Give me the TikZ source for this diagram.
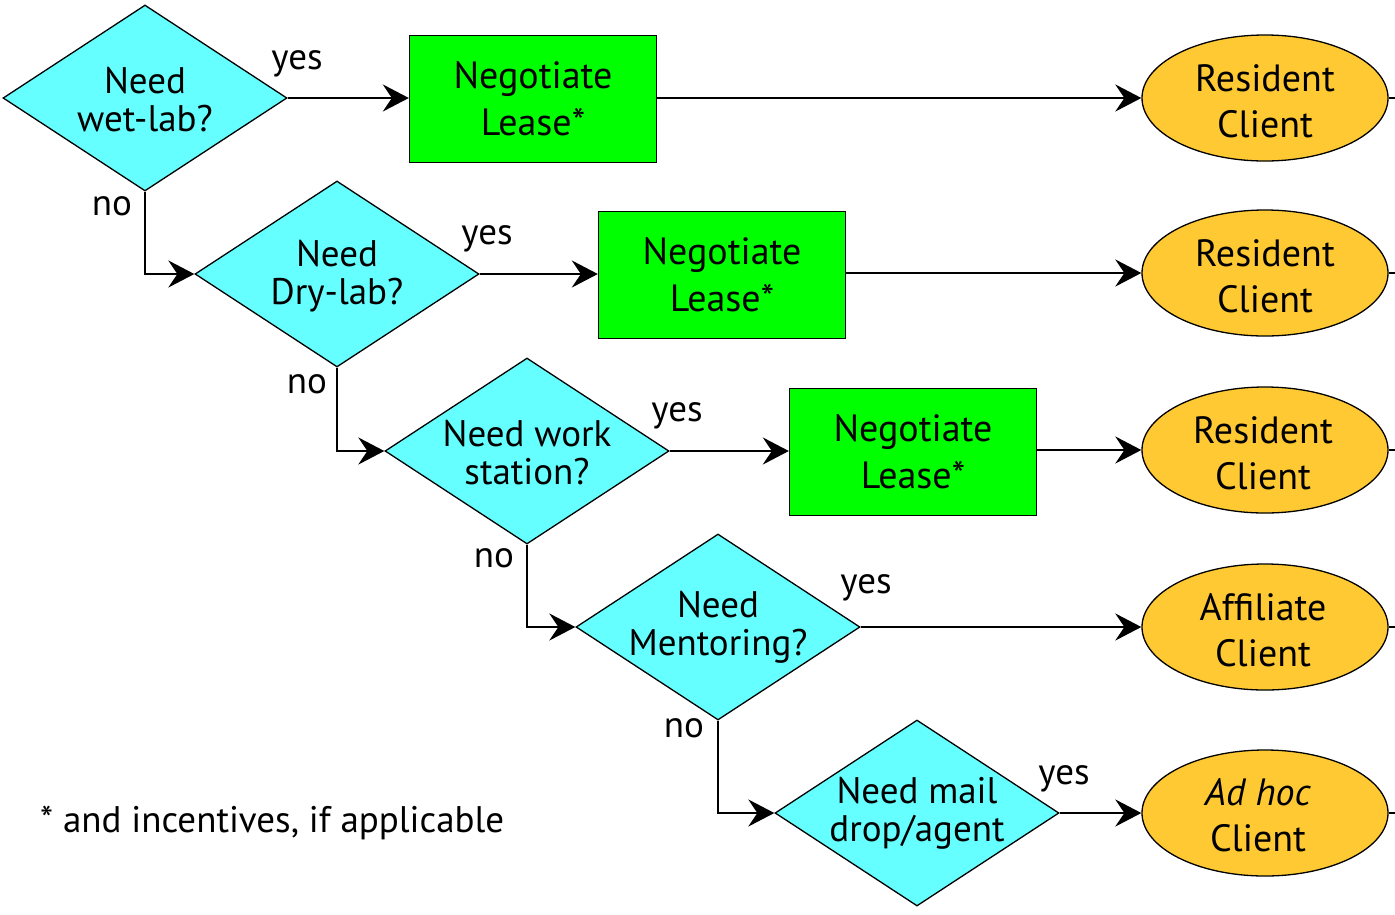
\documentclass[tikz,border=0pt]{standalone}
\usepackage{fontspec}
\setmainfont{PT Sans}
\usetikzlibrary{shapes.geometric,arrows.meta}
\definecolor{askcyan}{HTML}{66FFFF}
\definecolor{leasegreen}{HTML}{00FF00}
\definecolor{clientgold}{HTML}{FFC933}
\begin{document}
\begin{tikzpicture}[x=1pt,y=-1pt,
  question/.style={diamond,draw=black,line width=1.3pt,fill=askcyan,inner sep=0pt,
    minimum width=284pt,minimum height=186pt},
  qtext/.style={align=center,inner sep=0pt,font=\fontsize{37}{38}\selectfont},
  lease/.style={rectangle,draw=black,line width=1.3pt,fill=leasegreen,
    minimum width=247pt,minimum height=127pt,align=center,
    font=\fontsize{38}{47}\selectfont},
  client/.style={ellipse,draw=black,line width=1.3pt,fill=clientgold,inner sep=0pt,
    minimum width=246pt,minimum height=126pt},
  ctext/.style={align=center,inner sep=0pt,font=\fontsize{38}{46}\selectfont},
  answer/.style={inner sep=0pt,font=\fontsize{37}{38}\selectfont},
  flow/.style={line width=2.6pt,-{Stealth[length=26pt,width=27pt,inset=9pt]}},
  stub/.style={line width=2.6pt}]
\useasboundingbox (0,0) rectangle (1395,914);
\coordinate (rim) at (1395,0);

% decision diamonds down the staircase
\node[question] (d1) at (145,98) {};
\node[qtext] (q1) at (145,100) {Need\\wet-lab?};
\node[question] (d2) at (337,274) {};
\node[qtext] (q2) at (337,276) {Need\\Dry-lab?};
\node[question] (d3) at (527,451) {};
\node[qtext] (q3) at (527,453) {Need work\\station?};
\node[question] (d4) at (718,627) {};
\node[qtext] (q4) at (718,627) {Need\\Mentoring?};
\node[question] (d5) at (917,813) {};
\node[qtext] (q5) at (917,813) {Need mail\\drop/agent};

% lease boxes
\node[lease] (b1) at (533,99) {Negotiate\\Lease*};
\node[lease] (b2) at (722,275) {Negotiate\\Lease*};
\node[lease] (b3) at (913,452) {Negotiate\\Lease*};

% client outcomes
\node[client] (e1) at (1265,98) {};
\node[ctext] (c1) at (1265,101) {Resident\\Client};
\node[client] (e2) at (1265,273) {};
\node[ctext] (c2) at (1265,276) {Resident\\Client};
\node[client] (e3) at (1265,450) {};
\node[ctext] (c3) at (1263,453) {Resident\\Client};
\node[client] (e4) at (1265,627) {};
\node[ctext] (c4) at (1263,630) {Affiliate\\Client};
\node[client] (e5) at (1265,813) {};
\node[ctext] (c5) at (1258,815) {\textit{Ad hoc}\\Client};

% yes branches
\draw[flow] (d1.east) -- (d1.east -| b1.west);
\draw[flow] (b1.east |- e1.west) -- (e1.west);
\draw[flow] (d2.east) -- (d2.east -| b2.west);
\draw[flow] (b2.east |- e2.west) -- (e2.west);
\draw[flow] (d3.east) -- (d3.east -| b3.west);
\draw[flow] (b3.east |- e3.west) -- (e3.west);
\draw[flow] (d4.east) -- (e4.west);
\draw[flow] (d5.east) -- (e5.west);

% no branches
\draw[flow] (d1.south) |- (d2.west);
\draw[flow] (d2.south) |- (d3.west);
\draw[flow] (d3.south) |- (d4.west);
\draw[flow] (d4.south) |- (d5.west);

% lines leaving the clients
\foreach \e in {e1,e2,e3,e4,e5}
  \draw[stub] (\e.east) -- (\e.east -| rim);

% branch labels
\node[answer] (y1) at (297,64) {yes};
\node[answer] (y2) at (487,239) {yes};
\node[answer] (y3) at (677,416) {yes};
\node[answer] (y4) at (866,588) {yes};
\node[answer] (y5) at (1064,779) {yes};
\node[answer] (n1) at (112,206) {no};
\node[answer] (n2) at (307,384) {no};
\node[answer] (n3) at (494,558) {no};
\node[answer] (n4) at (684,728) {no};

% footnote
\node[answer,anchor=west] (note) at (40,823) {* and incentives, if applicable};
\end{tikzpicture}
\end{document}
